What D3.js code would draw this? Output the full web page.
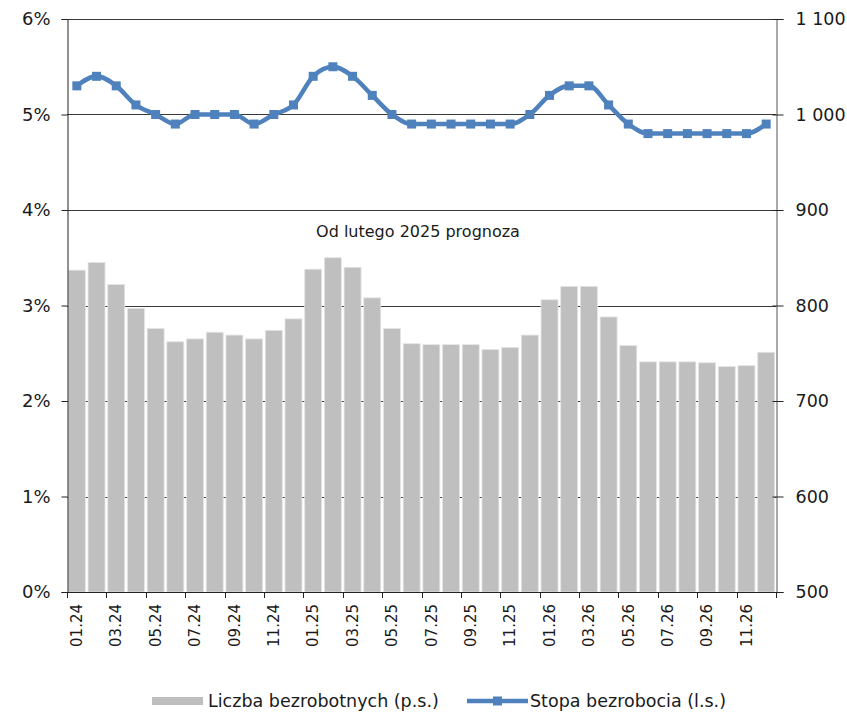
<!DOCTYPE html>
<html>
<head>
<meta charset="utf-8">
<script src="https://cdn.jsdelivr.net/npm/d3@7"></script>
<style>
  body { margin: 0; background: #fff; }
  text { font-family: "DejaVu Sans", Verdana, sans-serif; fill: #1a1a1a; }
</style>
</head>
<body>
<div class="chart"></div>
<script>
// months 01.24 .. 12.26
var months = [];
["24", "25", "26"].forEach(function(y) {
  ["01","02","03","04","05","06","07","08","09","10","11","12"].forEach(function(m) {
    months.push(m + "." + y);
  });
});

// liczba bezrobotnych, tys. (prawa skala)
var unemployed = [837, 845, 822, 797, 776, 762, 765, 772, 769, 765, 774, 786,
                  838, 850, 840, 808, 776, 760, 759, 759, 759, 754, 756, 769,
                  806, 820, 820, 788, 758, 741, 741, 741, 740, 736, 737, 751];

// stopa bezrobocia, % (lewa skala)
var rate = [5.3, 5.4, 5.3, 5.1, 5.0, 4.9, 5.0, 5.0, 5.0, 4.9, 5.0, 5.1,
            5.4, 5.5, 5.4, 5.2, 5.0, 4.9, 4.9, 4.9, 4.9, 4.9, 4.9, 5.0,
            5.2, 5.3, 5.3, 5.1, 4.9, 4.8, 4.8, 4.8, 4.8, 4.8, 4.8, 4.9];

var leftTicks = [0, 1, 2, 3, 4, 5, 6];
var rightTicks = [500, 600, 700, 800, 900, 1000, 1100];
var note = "Od lutego 2025 prognoza";
var legendNames = ["Liczba bezrobotnych (p.s.)", "Stopa bezrobocia (l.s.)"];

var width = 847,
    height = 712,
    pLeft = 67, pRight = 776, pTop = 19, pBottom = 592;

var blue = "#4f81bd", grey = "#bfbfbf";
var font = "\"DejaVu Sans\", Verdana, sans-serif";

var x = d3.scaleBand()
    .domain(months)
    .range([pLeft, pRight])
    .paddingInner(0.14)
    .paddingOuter(0.07);

// boundaries between categories, for the tick marks
var xi = d3.scaleLinear().domain([0, months.length]).range([pLeft, pRight]);

var yL = d3.scaleLinear().domain([0, 6]).range([pBottom, pTop]);
var yR = d3.scaleLinear().domain([500, 1100]).range([pBottom, pTop]);

var svg = d3.select(".chart")
    .append("svg")
    .attr("width", width)
    .attr("height", height);

// gridlines
svg.append("g")
    .selectAll("line")
    .data(leftTicks)
    .enter()
    .append("line")
    .attr("x1", pLeft).attr("x2", pRight)
    .attr("y1", d => Math.round(yL(d)) + 0.5)
    .attr("y2", d => Math.round(yL(d)) + 0.5)
    .attr("stroke", "#3a3a3a")
    .attr("stroke-width", 1);

// bars
svg.append("g")
    .selectAll("rect")
    .data(unemployed)
    .enter()
    .append("rect")
    .attr("x", (d, i) => x(months[i]))
    .attr("width", x.bandwidth())
    .attr("y", d => yR(d))
    .attr("height", d => yR(500) - yR(d))
    .attr("fill", grey)
    .attr("stroke", "#e4e4e4")
    .attr("stroke-width", 0.8);

// note
svg.append("text")
    .attr("x", 418)
    .attr("y", 237)
    .attr("text-anchor", "middle")
    .style("font-size", "16px")
    .text(note);

// line
var line = d3.line()
    .x((d, i) => x(months[i]) + x.bandwidth() / 2)
    .y(d => yL(d))
    .curve(d3.curveMonotoneX);

svg.append("path")
    .datum(rate)
    .attr("d", line)
    .attr("fill", "none")
    .attr("stroke", blue)
    .attr("stroke-width", 4.5)
    .attr("stroke-linejoin", "round");

svg.append("g")
    .selectAll("rect")
    .data(rate)
    .enter()
    .append("rect")
    .attr("x", (d, i) => x(months[i]) + x.bandwidth() / 2 - 4.5)
    .attr("y", d => yL(d) - 4.5)
    .attr("width", 9)
    .attr("height", 9)
    .attr("fill", blue);

// left axis
var gl = svg.append("g")
    .attr("transform", "translate(" + (pLeft + 0.5) + ",0)")
    .call(d3.axisLeft(yL).tickValues(leftTicks).tickFormat(d => d + "%").tickSize(6).tickPadding(11));
gl.select(".domain").attr("stroke", "#222");
gl.selectAll(".tick line").attr("stroke", "#222");
gl.selectAll("text").style("font-size", "18px").style("font-family", font).attr("fill", "#1a1a1a");

// right axis
var gr = svg.append("g")
    .attr("transform", "translate(" + (pRight + 0.5) + ",0)")
    .call(d3.axisRight(yR).tickValues(rightTicks).tickFormat(d => d3.format(",")(d).replace(",", " ")).tickSize(7).tickPadding(12));
gr.select(".domain").attr("stroke", "#555");
gr.selectAll(".tick line").attr("x1", -4).attr("stroke", "#222");
gr.selectAll("text").style("font-size", "17.5px").style("font-family", font).attr("fill", "#1a1a1a");

// x axis
svg.append("line")
    .attr("x1", pLeft).attr("x2", pRight + 6)
    .attr("y1", pBottom + 0.5).attr("y2", pBottom + 0.5)
    .attr("stroke", "#222");

svg.append("g")
    .selectAll("line")
    .data(d3.range(0, months.length + 1, 2))
    .enter()
    .append("line")
    .attr("x1", d => Math.round(xi(d)) + 0.5)
    .attr("x2", d => Math.round(xi(d)) + 0.5)
    .attr("y1", pBottom)
    .attr("y2", pBottom + 6)
    .attr("stroke", "#222");

var gx = svg.append("g")
    .attr("transform", "translate(0," + pBottom + ")")
    .call(d3.axisBottom(x).tickValues(months.filter((d, i) => i % 2 == 0)).tickSize(0));
gx.select(".domain").remove();
gx.selectAll("text")
    .style("font-size", "15px")
    .style("font-family", font)
    .attr("fill", "#1a1a1a")
    .attr("text-anchor", "end")
    .attr("transform", "rotate(-90)")
    .attr("x", -12)
    .attr("y", 0)
    .attr("dy", "0.35em");

// legend
var lg = svg.append("g").attr("transform", "translate(0,701)");
lg.append("rect")
    .attr("x", 152).attr("y", -4)
    .attr("width", 51).attr("height", 8)
    .attr("fill", grey);
lg.append("text")
    .attr("x", 208).attr("y", 0).attr("dy", "0.35em")
    .style("font-size", "17.5px")
    .text(legendNames[0]);
lg.append("line")
    .attr("x1", 467).attr("x2", 528)
    .attr("y1", 0).attr("y2", 0)
    .attr("stroke", blue)
    .attr("stroke-width", 4.5);
lg.append("rect")
    .attr("x", 493).attr("y", -4.5)
    .attr("width", 9).attr("height", 9)
    .attr("fill", blue);
lg.append("text")
    .attr("x", 530).attr("y", 0).attr("dy", "0.35em")
    .style("font-size", "17.5px")
    .text(legendNames[1]);
</script>
</body>
</html>
